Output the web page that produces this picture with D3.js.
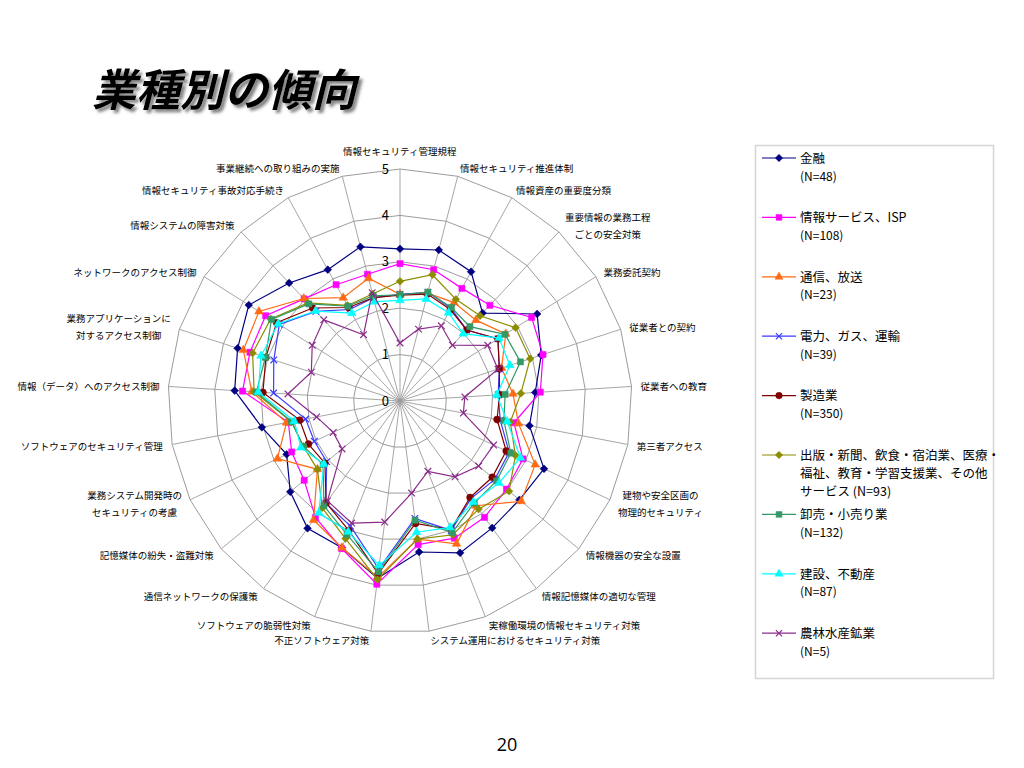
<!DOCTYPE html>
<html>
<head>
<meta charset="utf-8">
<script src="https://cdn.jsdelivr.net/npm/d3@7"></script>
<style>
  body { margin: 0; background: #fff; }
  svg text { font-family: "Noto Sans CJK JP", "Noto Sans", sans-serif; }
</style>
</head>
<body>
<div class="container"></div>
<script>
// axis categories, clockwise from the top
const axisLabels = [
  "情報セキュリティ管理規程", "情報セキュリティ推進体制", "情報資産の重要度分類",
  "重要情報の業務工程\nごとの安全対策", "業務委託契約", "従業者との契約", "従業者への教育",
  "第三者アクセス", "建物や安全区画の\n物理的セキュリティ", "情報機器の安全な設置",
  "情報記憶媒体の適切な管理", "実稼働環境の情報セキュリティ対策",
  "システム運用におけるセキュリティ対策", "不正ソフトウェア対策", "ソフトウェアの脆弱性対策",
  "通信ネットワークの保護策", "記憶媒体の紛失・盗難対策", "業務システム開発時の\nセキュリティの考慮",
  "ソフトウェアのセキュリティ管理", "情報（データ）へのアクセス制御",
  "業務アプリケーションに\n対するアクセス制御", "ネットワークのアクセス制御",
  "情報システムの障害対策", "情報セキュリティ事故対応手続き", "事業継続への取り組みの実施"
]

const seriesNames = [
  "金融\n(N=48)", "情報サービス、ISP\n(N=108)", "通信、放送\n(N=23)",
  "電力、ガス、運輸\n(N=39)", "製造業\n(N=350)",
  "出版・新聞、飲食・宿泊業、医療・\n福祉、教育・学習支援業、その他\nサービス (N=93)",
  "卸売・小売り業\n(N=132)", "建設、不動産\n(N=87)", "農林水産鉱業\n(N=5)"
]

const tickValues = [0, 1, 2, 3, 4, 5]

// values, one per axis
const kinyu    = [3.28, 3.36, 3.18, 2.60, 3.50, 3.20, 2.92, 2.84, 3.43, 3.34, 3.38, 3.52, 3.28, 3.85, 3.40, 3.39, 3.07, 2.70, 3.03, 3.57, 3.68, 3.86, 3.49, 3.23, 3.43]
const johoSvc  = [2.96, 2.92, 2.77, 2.83, 3.36, 3.24, 3.03, 2.50, 2.93, 2.98, 3.10, 3.18, 3.12, 3.98, 3.42, 3.10, 2.68, 2.58, 2.45, 3.40, 3.40, 3.43, 3.02, 2.86, 2.82]
const tsushin  = [2.30, 2.40, 2.42, 2.39, 2.70, 2.30, 2.44, 2.60, 3.22, 3.39, 2.79, 3.31, 3.00, 3.83, 3.40, 3.17, 2.31, 2.92, 2.49, 3.20, 3.55, 3.60, 3.03, 2.54, 2.73]
const denryoku = [2.30, 2.42, 2.28, 2.10, 2.50, 2.25, 2.12, 2.20, 2.60, 2.65, 2.60, 3.00, 2.55, 3.65, 2.90, 2.72, 2.05, 2.04, 2.07, 2.73, 2.86, 3.08, 2.65, 2.25, 2.30]
const seizo    = [2.28, 2.38, 2.25, 2.10, 2.50, 2.25, 2.15, 2.13, 2.53, 2.58, 2.57, 2.98, 2.66, 3.75, 3.00, 2.71, 2.10, 2.18, 2.20, 2.96, 3.04, 3.15, 2.75, 2.30, 2.30]
const shuppan  = [2.58, 2.81, 2.50, 2.52, 2.95, 2.95, 2.61, 2.42, 2.75, 3.05, 2.88, 3.10, 3.00, 3.88, 3.19, 2.85, 2.31, 2.30, 2.38, 3.15, 3.34, 3.30, 2.90, 2.35, 2.38]
const oroshi   = [2.29, 2.42, 2.30, 2.20, 2.68, 2.73, 2.27, 2.28, 2.64, 2.70, 2.72, 3.05, 2.59, 3.71, 3.10, 2.79, 2.15, 2.30, 2.38, 3.10, 3.05, 3.28, 2.87, 2.33, 2.34]
const kensetsu = [2.17, 2.27, 2.17, 1.99, 2.53, 2.49, 2.09, 2.35, 2.87, 2.77, 2.69, 2.93, 2.85, 3.57, 3.03, 2.98, 2.13, 2.36, 2.32, 3.06, 3.15, 3.11, 2.66, 2.16, 2.21]
const norin    = [1.25, 1.60, 1.85, 1.65, 2.24, 2.22, 1.40, 1.39, 2.23, 2.20, 2.02, 1.63, 2.00, 2.63, 2.83, 2.66, 1.62, 1.59, 1.83, 2.42, 2.01, 2.24, 2.40, 1.63, 2.41]

const seriesValues = [kinyu, johoSvc, tsushin, denryoku, seizo, shuppan, oroshi, kensetsu, norin]

// look of each series (Excel defaults)
const seriesStyle = [
  { color: "#000080", symbol: "diamond" },
  { color: "#ff00ff", symbol: "square" },
  { color: "#ff6a13", symbol: "triangle" },
  { color: "#3b3bff", symbol: "times" },
  { color: "#800000", symbol: "circle" },
  { color: "#8c8c00", symbol: "diamond" },
  { color: "#339966", symbol: "square" },
  { color: "#00ffff", symbol: "triangle" },
  { color: "#8b2d8b", symbol: "times" }
]

const w = 1024
const h = 768
const cx = 400
const cy = 401
const radius = 232
const n = axisLabels.length

const svg = d3.select(".container")
  .append("svg")
  .attr("width", w)
  .attr("height", h)

// title with a soft drop shadow
const defs = svg.append("defs")
defs.append("filter").attr("id", "shadow")
  .attr("x", "-10%").attr("y", "-20%").attr("width", "130%").attr("height", "150%")
  .append("feDropShadow")
  .attr("dx", 3).attr("dy", 3)
  .attr("stdDeviation", 1.4)
  .attr("flood-color", "#777")
  .attr("flood-opacity", 0.9)

svg.append("text")
  .attr("x", 92).attr("y", 106)
  .attr("filter", "url(#shadow)")
  .style("font-size", "44px").style("font-weight", 700).style("font-style", "italic")
  .attr("fill", "#000")
  .text("業種別の傾向")

// page number
svg.append("text")
  .attr("x", 507).attr("y", 751)
  .attr("text-anchor", "middle")
  .style("font-family", "'Open Sans', sans-serif")
  .style("font-size", "18px")
  .text("20")

//Scales
const rScale = d3.scaleLinear().domain([0, 5]).range([0, radius])
const aScale = d3.scaleLinear().domain([0, n]).range([0, 2 * Math.PI])
const idx = d3.range(n)

const chart = svg.append("g").attr("transform", `translate(${cx},${cy})`)

// grid rings
const ring = (v) => d3.lineRadial()
  .angle((i) => aScale(i))
  .radius(() => rScale(v))
  .curve(d3.curveLinearClosed)(idx)

chart.selectAll(".ring")
  .data(tickValues.filter((v) => v > 0))
  .enter()
  .append("path")
  .attr("class", "ring")
  .attr("d", (v) => ring(v))
  .attr("fill", "none")
  .attr("stroke", "#9c9c9c")
  .attr("stroke-width", 1)

// spokes
chart.selectAll(".spoke")
  .data(idx)
  .enter()
  .append("line")
  .attr("class", "spoke")
  .attr("x1", 0).attr("y1", 0)
  .attr("x2", (i) => rScale(5) * Math.sin(aScale(i)))
  .attr("y2", (i) => -rScale(5) * Math.cos(aScale(i)))
  .attr("stroke", "#9c9c9c")
  .attr("stroke-width", 0.9)

// tick labels along the top spoke
chart.selectAll(".tick-label")
  .data(tickValues)
  .enter()
  .append("text")
  .attr("class", "tick-label")
  .attr("x", -11)
  .attr("y", (v) => -rScale(v))
  .attr("dy", "0.36em")
  .attr("text-anchor", "end")
  .style("font-size", "13px")
  .text((v) => v)

// category labels: box centred vertically on the axis end, inner edge at the axis end
const labelR = 241
chart.selectAll(".cat")
  .data(axisLabels)
  .enter()
  .append("text")
  .attr("class", "cat")
  .style("font-size", "9.5px")
  .attr("text-anchor", "middle")
  .each(function (d) {
    const lines = d.split("\n")
    lines.forEach((t, k) => {
      d3.select(this).append("tspan").attr("x", 0).attr("dy", k === 0 ? 0 : 17).text(t)
    })
  })
  .each(function (d, i) {
    const b = this.getBBox()
    const a = aScale(i)
    const s = Math.sin(a), c = Math.cos(a)
    const px = labelR * s, py = -labelR * c
    let bx, by
    if (Math.abs(s) < 0.05) {
      bx = px - b.width / 2
      by = py - b.height - 2
    } else {
      bx = s > 0 ? px : px - b.width
      by = py - b.height / 2
    }
    d3.select(this).attr("transform", `translate(${bx - b.x},${by - b.y})`)
  })

// markers
const symbolPath = (kind, scale) => {
  if (kind === "diamond") return d3.symbol(d3.symbolSquare, 30 * scale)()
  if (kind === "square") return d3.symbol(d3.symbolSquare, 38 * scale)()
  if (kind === "triangle") return d3.symbol(d3.symbolTriangle, 32 * scale)()
  if (kind === "circle") return d3.symbol(d3.symbolCircle, 38 * scale)()
  return d3.symbol(d3.symbolTimes, 30 * scale)()
}

const drawMarker = (sel, st, scale) => {
  sel.append("path")
    .attr("d", symbolPath(st.symbol, scale))
    .attr("fill", st.symbol === "times" ? "none" : st.color)
    .attr("stroke", st.color)
    .attr("stroke-width", st.symbol === "times" ? 1.2 : 0.5)
    .attr("transform", (p) => (p && p.x !== undefined ? `translate(${p.x},${p.y})` : "") + (st.symbol === "diamond" ? " rotate(45)" : ""))
}

const seriesLine = d3.lineRadial()
  .angle((d, i) => aScale(i))
  .radius((d) => rScale(d))
  .curve(d3.curveLinearClosed)

seriesValues.forEach((vals, si) => {
  const st = seriesStyle[si]
  const g = chart.append("g").attr("class", "series")
  g.append("path")
    .attr("d", seriesLine(vals))
    .attr("fill", "none")
    .attr("stroke", st.color)
    .attr("stroke-width", 1.2)

  const pts = vals.map((v, i) => ({
    x: rScale(v) * Math.sin(aScale(i)),
    y: -rScale(v) * Math.cos(aScale(i))
  }))
  const m = g.selectAll(".m").data(pts).enter().append("g").attr("class", "m")
  drawMarker(m, st, 1)
})

// legend
const legend = svg.append("g")
legend.append("rect")
  .attr("x", 755.5).attr("y", 145.5)
  .attr("width", 238).attr("height", 533)
  .attr("fill", "#fff")
  .attr("stroke", "#d4d4d4")
  .attr("stroke-width", 1.5)

const legendY = d3.scaleLinear().domain([0, 1]).range([158, 217.4])

seriesNames.forEach((name, si) => {
  const st = seriesStyle[si]
  const y = legendY(si)
  const item = legend.append("g").attr("transform", `translate(0,${y})`)
  item.append("line")
    .attr("x1", 762).attr("x2", 796)
    .attr("y1", 0).attr("y2", 0)
    .attr("stroke", st.color)
    .attr("stroke-width", 1.2)
  const mk = item.append("g").datum({ x: 779, y: 0 })
  drawMarker(mk, st, 0.9)
  name.split("\n").forEach((t, k) => {
    item.append("text")
      .attr("x", 800)
      .attr("y", k * 18)
      .attr("dy", "0.38em")
      .style("font-size", t.startsWith("(") ? "12px" : "12.5px")
      .text(t)
  })
})
</script>
</body>
</html>
